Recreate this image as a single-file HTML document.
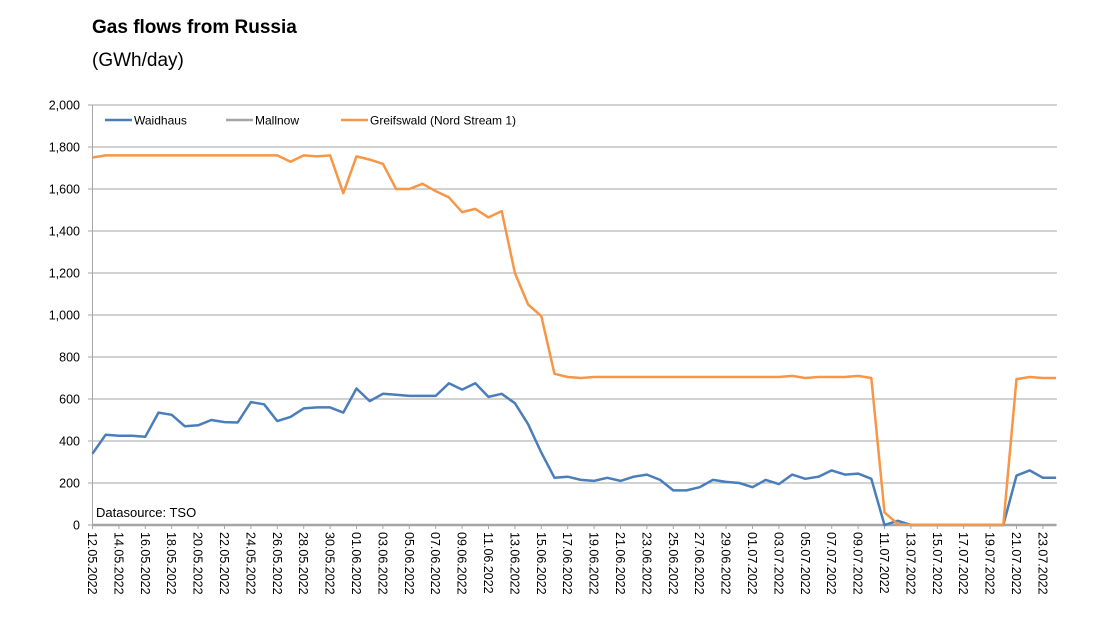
<!DOCTYPE html>
<html><head><meta charset="utf-8"><style>
body{margin:0;background:#fff;}
svg{display:block;font-family:"Liberation Sans",sans-serif;}
</style></head><body>
<svg id="s" width="1104" height="639" viewBox="0 0 1104 639" xmlns="http://www.w3.org/2000/svg">
<text x="92" y="33" font-size="19" font-weight="bold" fill="#000">Gas flows from Russia</text>
<text x="92" y="66" font-size="19" fill="#000">(GWh/day)</text>
<g id="grid"></g>
<g id="labels" font-size="12.5" fill="#000"></g>
<text x="96" y="517" font-size="13" fill="#000">Datasource: TSO</text>
<line x1="105" y1="120" x2="132" y2="120" stroke="#4a7ebb" stroke-width="2.5"/>
<text x="134" y="124.5" font-size="12" fill="#000">Waidhaus</text>
<line x1="226" y1="120" x2="253" y2="120" stroke="#a5a5a5" stroke-width="2.5"/>
<text x="255" y="124.5" font-size="12" fill="#000">Mallnow</text>
<line x1="341" y1="120" x2="368" y2="120" stroke="#f79646" stroke-width="2.5"/>
<text x="370" y="124.5" font-size="12" fill="#000">Greifswald (Nord Stream 1)</text>
<g id="series"></g>
</svg>
<script>
var X0=92.5,DX=13.2,Y0=525,K=0.21;
var g=document.getElementById('grid'),lb=document.getElementById('labels'),se=document.getElementById('series');
var ns='http://www.w3.org/2000/svg';
function el(t,a,p,txt){var e=document.createElementNS(ns,t);for(var k in a)e.setAttribute(k,a[k]);if(txt)e.textContent=txt;p.appendChild(e);return e;}
for(var v=0;v<=2000;v+=200){var y=Y0-v*K;
 el('line',{x1:88,x2:1057,y1:y,y2:y,stroke:v==0?'#a0a0a0':'#a6a6a6','stroke-width':1},g);
 el('text',{x:80,y:y+4.5,'text-anchor':'end'},lb,v.toLocaleString('en-US'));}
el('line',{x1:92.5,x2:92.5,y1:105,y2:529,stroke:'#a6a6a6','stroke-width':1},g);
var d=new Date(2022,4,12);
for(var i=0;i<74;i++){var x=X0+i*DX;
 if(i%2==0){el('line',{x1:x,x2:x,y1:525,y2:529,stroke:'#a6a6a6'},g);
  var dd=new Date(2022,4,12+i);var s=('0'+dd.getDate()).slice(-2)+'.'+('0'+(dd.getMonth()+1)).slice(-2)+'.2022';
  el('text',{x:0,y:0,transform:'translate('+(x-4.5)+',532) rotate(90)','font-size':12.5},lb,s);}}
var W=[340,430,425,425,420,535,525,470,475,500,490,488,585,575,495,515,555,560,560,535,650,590,625,620,615,615,615,675,645,675,610,625,580,480,345,225,230,215,210,225,210,230,240,215,165,165,180,215,205,200,180,215,195,240,220,230,260,240,245,220,0,20,0,0,0,0,0,0,0,0,235,260,225,225];
var G=[1750];for(var i=1;i<=14;i++)G.push(1760);
G=G.concat([1730,1760,1755,1760,1580,1755,1740,1720,1600,1600,1625,1590,1560,1490,1505,1465,1495,1200,1050,995,720,705,700]);
for(var i=38;i<=52;i++)G.push(705);
G=G.concat([710,700,705,705,705,710,700,60,5]);
for(var i=62;i<=69;i++)G.push(0);
G=G.concat([695,705,700,700]);
function pl(arr,c){var p=arr.map(function(v,i){return (X0+i*DX).toFixed(1)+','+(Y0-v*K).toFixed(1)}).join(' ');
 el('polyline',{points:p,fill:'none',stroke:c,'stroke-width':2.5,'stroke-linejoin':'round'},se);}
pl(new Array(74).fill(0),'#a5a5a5');pl(W,'#4a7ebb');pl(G,'#f79646');
</script>
</body></html>
